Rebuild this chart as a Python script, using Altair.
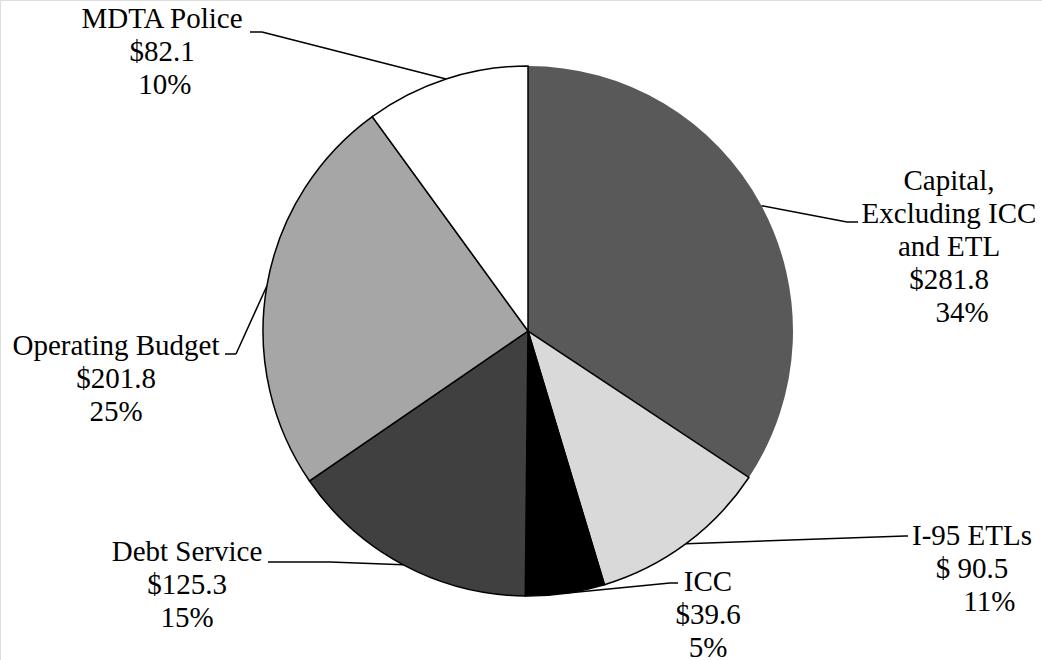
import altair as alt
import pandas as pd

# ---- data ----
categories = ["Capital, Excluding ICC and ETL", "I-95 ETLs", "ICC",
              "Debt Service", "Operating Budget", "MDTA Police"]
values = [281.8, 90.5, 39.6, 125.3, 201.8, 82.1]
label_text = [
    "Capital,\nExcluding ICC\nand ETL\n$281.8\n\u200d\u2002\u2009\u200934%",
    "I-95 ETLs\n$ 90.5\n\u200d\u2003\u200911%",
    "ICC\n$39.6\n5%",
    "Debt Service\n$125.3\n15%",
    "Operating Budget\n$201.8\n25%",
    "MDTA Police\n$82.1\n\u200d\u200910%",
]
colors = ["#595959", "#d9d9d9", "#000000", "#404040", "#a6a6a6", "#ffffff"]

# ---- layout (label anchors and leader elbows, pixels) ----
CX, CY, R = 528, 331, 265
label_x = [949, 972, 708, 187, 116, 162]
label_y = [190, 545, 591, 561, 355, 28]
elbow_x = [847, 905, 670, 330, 236, 262]
elbow_y = [222, 536, 583, 562, 354, 32]
end_x = [858, 908, 678, 268, 225, 250]

df = pd.DataFrame({
    "category": categories,
    "value": values,
    "order": list(range(len(categories))),
    "label": label_text,
    "lx": label_x, "ly": label_y,
    "ex": elbow_x, "ey": elbow_y, "endx": end_x,
})

W, H = 1042, 660
xs = alt.Scale(domain=[0, W], range=[0, W])
ys = alt.Scale(domain=[0, H], range=[0, H])

base = alt.Chart(df)

pie = base.mark_arc(radius=R, stroke="black", strokeWidth=1.5).encode(
    theta=alt.Theta("value:Q", stack=True),
    order=alt.Order("order:Q"),
    color=alt.Color("category:N", scale=alt.Scale(domain=categories, range=colors), legend=None),
    strokeOpacity=alt.condition(alt.datum.order == 0, alt.value(0), alt.value(1)),
    x=alt.value(CX), y=alt.value(CY),
)

geo = base.transform_joinaggregate(
    total="sum(value)"
).transform_window(
    cum="sum(value)", sort=[alt.SortField("order")]
).transform_calculate(
    mid="(datum.cum - datum.value/2) / datum.total * 2 * PI",
).transform_calculate(
    ax=f"{CX} + {R} * sin(datum.mid)",
    ay=f"{CY} - {R} * cos(datum.mid)",
)

lead1 = geo.mark_rule(color="black", strokeWidth=1.5).encode(
    x=alt.X("ax:Q", scale=xs, axis=None),
    y=alt.Y("ay:Q", scale=ys, axis=None),
    x2="ex:Q", y2="ey:Q",
)
lead2 = geo.mark_rule(color="black", strokeWidth=1.5).encode(
    x=alt.X("ex:Q", scale=xs, axis=None),
    y=alt.Y("ey:Q", scale=ys, axis=None),
    x2="endx:Q",
)

labels = base.mark_text(
    font="Liberation Serif", fontSize=29, lineBreak="\n", lineHeight=33,
    align="center", baseline="alphabetic", color="black",
).encode(
    x=alt.X("lx:Q", scale=xs, axis=None),
    y=alt.Y("ly:Q", scale=ys, axis=None),
    text="label:N",
)

chart = alt.layer(pie, lead1, lead2, labels).properties(
    width=W, height=H, padding=0,
    autosize=alt.AutoSizeParams(type="none"),
).configure_view(stroke=None).configure(background="white")

chart.save("out.html", embed_options={"renderer": "svg", "actions": False})
